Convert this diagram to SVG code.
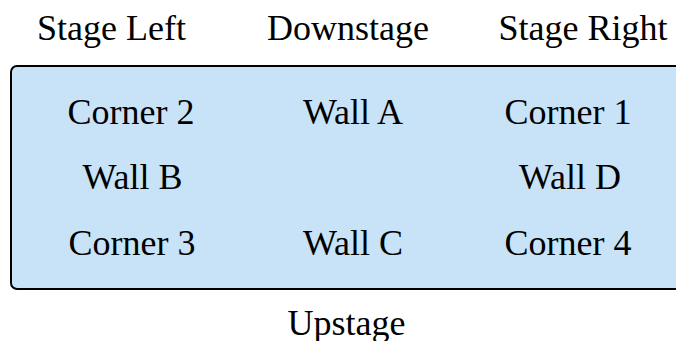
<svg xmlns="http://www.w3.org/2000/svg" width="676" height="341" viewBox="0 0 676 341">
<rect width="676" height="341" fill="#fff"/>
<g id="stage"><rect x="11" y="66" width="700" height="223" rx="6" fill="#c8e3f7" stroke="#000" stroke-width="2"/></g>
<g id="labels">
<text font-family="Liberation Serif" font-size="36" text-anchor="middle" x="111.5" y="40">Stage Left</text>
<text font-family="Liberation Serif" font-size="36" text-anchor="middle" x="348" y="40">Downstage</text>
<text font-family="Liberation Serif" font-size="36" text-anchor="middle" x="583" y="40">Stage Right</text>
<text font-family="Liberation Serif" font-size="36" text-anchor="middle" x="346.5" y="335">Upstage</text>
</g>
<g id="corner2"><text font-family="Liberation Serif" font-size="36" text-anchor="middle" x="131" y="124">Corner 2</text></g>
<g id="wallA"><text font-family="Liberation Serif" font-size="36" text-anchor="middle" x="353" y="124">Wall A</text></g>
<g id="corner1"><text font-family="Liberation Serif" font-size="36" text-anchor="middle" x="568" y="124">Corner 1</text></g>
<g id="wallB"><text font-family="Liberation Serif" font-size="36" text-anchor="middle" x="132.5" y="189">Wall B</text></g>
<g id="wallD"><text font-family="Liberation Serif" font-size="36" text-anchor="middle" x="570" y="189">Wall D</text></g>
<g id="corner3"><text font-family="Liberation Serif" font-size="36" text-anchor="middle" x="132" y="255">Corner 3</text></g>
<g id="wallC"><text font-family="Liberation Serif" font-size="36" text-anchor="middle" x="353" y="255">Wall C</text></g>
<g id="corner4"><text font-family="Liberation Serif" font-size="36" text-anchor="middle" x="568" y="255">Corner 4</text></g>
<g id="connectors"/>
</svg>
